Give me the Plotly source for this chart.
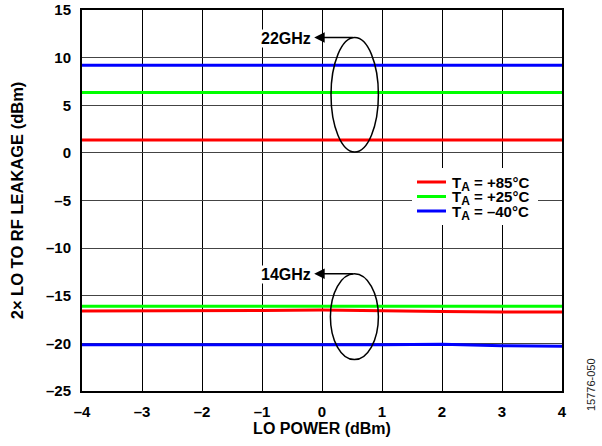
import plotly.graph_objects as go

lo_power = [-4, -3, -2, -1, 0, 1, 2, 3, 4]

# 22 GHz
ghz22_p85 = [1.35, 1.35, 1.35, 1.35, 1.35, 1.35, 1.35, 1.35, 1.35]
ghz22_p25 = [6.35, 6.35, 6.35, 6.35, 6.35, 6.35, 6.35, 6.35, 6.35]
ghz22_m40 = [9.2, 9.2, 9.2, 9.2, 9.2, 9.2, 9.2, 9.2, 9.2]

# 14 GHz
ghz14_p85 = [-16.6, -16.6, -16.6, -16.55, -16.5, -16.6, -16.65, -16.7, -16.7]
ghz14_p25 = [-16.1, -16.1, -16.1, -16.1, -16.12, -16.12, -16.1, -16.1, -16.1]
ghz14_m40 = [-20.15, -20.15, -20.2, -20.2, -20.2, -20.15, -20.1, -20.25, -20.3]

legend_labels = ["T<sub>A</sub> = +85°C", "T<sub>A</sub> = +25°C", "T<sub>A</sub> = –40°C"]
colors = ["#ff0000", "#00ff00", "#0000ff"]
data22 = [ghz22_p85, ghz22_p25, ghz22_m40]
data14 = [ghz14_p85, ghz14_p25, ghz14_m40]

x_ticks = [-4, -3, -2, -1, 0, 1, 2, 3, 4]
x_ticktext = ["–4", "–3", "–2", "–1", "0", "1", "2", "3", "4"]
y_ticks = [-25, -20, -15, -10, -5, 0, 5, 10, 15]
y_ticktext = ["–25", "–20", "–15", "–10", "–5", "0", "5", "10", "15"]

FONT = "Liberation Sans, Arial, sans-serif"
def bold(size):
    return dict(family=FONT, size=size, color="black", weight="bold")

fig = go.Figure()
for name, color, v22, v14 in zip(legend_labels, colors, data22, data14):
    fig.add_trace(go.Scatter(x=lo_power, y=v22, mode="lines", name=name,
                             showlegend=False, line=dict(color=color, width=3)))
    fig.add_trace(go.Scatter(x=lo_power, y=v14, mode="lines", name=name,
                             showlegend=False, line=dict(color=color, width=3)))

# ellipses
fig.add_shape(type="circle", xref="x", yref="y", x0=0.15, x1=0.94, y0=0.1, y1=12.1,
              line=dict(color="black", width=1.5))
fig.add_shape(type="circle", xref="x", yref="y", x0=0.14, x1=0.94, y0=-21.7, y1=-12.7,
              line=dict(color="black", width=1.5))

# arrows
for ytop in [12.1, -12.7]:
    fig.add_annotation(x=-0.13, y=ytop, ax=0.54, ay=ytop, xref="x", yref="y",
                       axref="x", ayref="y", text="", showarrow=True,
                       arrowhead=2, arrowsize=1.4, arrowwidth=1.5,
                       arrowcolor="black", standoff=0)

fig.add_annotation(x=-0.16, y=12.0, xref="x", yref="y", text="22GHz",
                   showarrow=False, xanchor="right", bgcolor="white",
                   borderpad=0, font=bold(16))
fig.add_annotation(x=-0.16, y=-12.8, xref="x", yref="y", text="14GHz",
                   showarrow=False, xanchor="right", bgcolor="white",
                   borderpad=0, font=bold(16))

# manual legend; page coords of the plot area: x 82..562, y 10..391
W, H, L, T = 480.0, 381.0, 82.0, 10.0
def px(xp):
    return (xp - L) / W
def py(yp):
    return 1 - (yp - T) / H

fig.add_shape(type="rect", xref="paper", yref="paper",
              x0=px(412), x1=px(538), y0=py(225), y1=py(168),
              fillcolor="white", line=dict(width=0), layer="above")
rows = [182, 196.5, 211]
for lab, color, yr in zip(legend_labels, colors, rows):
    fig.add_shape(type="line", xref="paper", yref="paper",
                  x0=px(417), x1=px(446), y0=py(yr), y1=py(yr),
                  line=dict(color=color, width=3), layer="above")
    fig.add_annotation(x=px(451), y=py(yr), xref="paper", yref="paper",
                       text=lab.replace("<sub>A</sub>",
                                        "<sub><span style='font-size:12px'>A</span></sub>"),
                       showarrow=False, xanchor="left", yanchor="middle",
                       yshift=-2, borderpad=0, font=bold(15))

# watermark
fig.add_annotation(x=px(591), y=py(385), xref="paper", yref="paper",
                   text="15776-050", showarrow=False, textangle=-90,
                   xanchor="center", yanchor="middle",
                   font=dict(family=FONT, size=11, color="#222"))

fig.update_layout(
    width=602, height=446,
    margin=dict(l=82, r=40, t=10, b=55),
    paper_bgcolor="white", plot_bgcolor="white",
    font=dict(family=FONT, size=14, color="black"),
    showlegend=False,
)

fig.update_xaxes(range=[-4, 4], tickvals=x_ticks, ticktext=x_ticktext,
                 showgrid=True, gridcolor="black", gridwidth=1,
                 showline=True, linecolor="black", linewidth=2, mirror=True,
                 zeroline=False, ticks="", automargin=False, ticklabelstandoff=6,
                 ticklabeloverflow="allow", tickfont=bold(15),
                 title=dict(text="LO POWER (dBm)", standoff=2, font=bold(16)))
fig.update_yaxes(range=[-25, 15], tickvals=y_ticks, ticktext=y_ticktext,
                 showgrid=True, gridcolor="#444", gridwidth=1,
                 showline=True, linecolor="black", linewidth=2, mirror=True,
                 zeroline=False, ticks="", automargin=False, ticklabelstandoff=6,
                 ticklabeloverflow="allow", tickfont=bold(15),
                 title=dict(text="2× LO TO RF LEAKAGE (dBm)", standoff=18, font=bold(16.5)))

# remove the default 8px page margin so the figure sits at the window origin
fig.write_html("out.html", config={"displayModeBar": False},
               post_script="document.body.style.margin='0';")
